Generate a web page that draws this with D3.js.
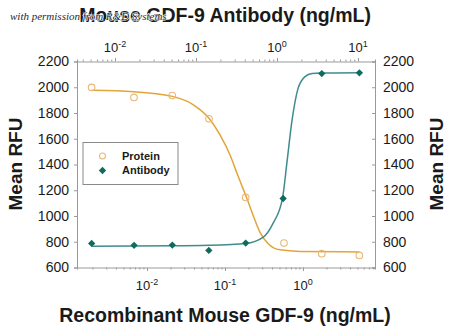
<!DOCTYPE html>
<html>
<head>
<meta charset="utf-8">
<script src="https://cdn.jsdelivr.net/npm/d3@7"></script>
<style>
    html, body { margin: 0; padding: 0; background: #fff; }
    svg { display: block; font-family: "Liberation Sans", Arial, sans-serif; }
</style>
</head>
<body>
<div id="chart"></div>
<script>
'use strict';

// ─── Data ──────────────────────────────────────────────────────

// Recombinant Mouse GDF-9 (ng/mL), bottom axis
const proteinConc = [0.00195, 0.0068, 0.0211, 0.0624, 0.184, 0.57, 1.74, 5.27];
const proteinRFU  = [1999, 1921, 1935, 1755, 1144, 790, 707, 694];

// Mouse GDF-9 Antibody (ng/mL), top axis
const antibodyConc = [0.00515, 0.0172, 0.051, 0.144, 0.411, 1.19, 3.57, 10.4];
const antibodyRFU  = [787, 772, 774, 733, 790, 1136, 2106, 2112];

// fitted curves
const proteinFitConc = [0.00195, 0.0068, 0.0211, 0.0393, 0.0624, 0.0863, 0.116, 0.147, 0.19, 0.229, 0.281, 0.356, 0.507, 0.916, 5.27];
const proteinFitRFU  = [1976, 1966, 1929, 1864, 1759, 1630, 1474, 1310, 1139, 1006, 873, 787, 737, 725, 721];

const antibodyFitConc = [0.00515, 0.051, 0.144, 0.411, 0.671, 0.893, 1.17, 1.329, 1.531, 1.816, 2.217, 2.705, 3.49, 10.4];
const antibodyFitRFU  = [766, 768, 772, 787, 834, 943, 1139, 1420, 1740, 1989, 2083, 2106, 2110, 2112];

const rfuTicks = [600, 800, 1000, 1200, 1400, 1600, 1800, 2000, 2200];
const bottomMajor = [0.01, 0.1, 1];
const topMajor = [0.01, 0.1, 1, 10];

// ─── Layout ────────────────────────────────────────────────────

const W = 450, H = 329;
const plot = { left: 77, right: 375, top: 61.5, bottom: 267.5 };

const PROTEIN_LINE = '#e2a53a';
const PROTEIN_DOT = '#e9b877';
const ANTIBODY_LINE = '#3f8c8e';
const ANTIBODY_DOT = '#0f6b5d';
const AXIS = '#9a9a9a';
const TEXT = '#1a1a1a';

const svg = d3.select('#chart').append('svg')
    .attr('width', W).attr('height', H);

// log scales; each axis spans slightly different decades in the original
const xBottom = d3.scaleLog()
    .domain([Math.pow(10, -2 - 70 / 78), Math.pow(10, 72 / 78)])
    .range([plot.left, plot.right]);

const xTop = d3.scaleLog()
    .domain([Math.pow(10, -2 - 38 / 81), Math.pow(10, 1 + 17 / 81)])
    .range([plot.left, plot.right]);

const y = d3.scaleLinear()
    .domain([600, 2200])
    .range([plot.bottom, plot.top]);

// ─── Axes ──────────────────────────────────────────────────────

function minorTicks(scale) {
    // 1..9 × each decade inside the domain
    const [a, b] = scale.domain();
    const out = [];
    for (let e = Math.floor(Math.log10(a)); e <= Math.ceil(Math.log10(b)); e++) {
        for (let m = 1; m < 10; m++) {
            const v = m * Math.pow(10, e);
            if (v >= a && v <= b) out.push(v);
        }
    }
    return out;
}

function powLabel(sel, v) {
    const e = Math.round(Math.log10(v));
    sel.text(null);
    sel.append('tspan').text('10');
    sel.append('tspan').attr('dy', -5).attr('font-size', '9px').text(String(e));
}

// bottom
const gBottom = svg.append('g')
    .attr('transform', `translate(0,${plot.bottom})`)
    .call(d3.axisBottom(xBottom).tickValues(minorTicks(xBottom)).tickSize(2).tickFormat(''));
gBottom.selectAll('.tick line')
    .attr('y2', d => bottomMajor.some(m => Math.abs(m - d) < 1e-9) ? 3.5 : 2);
gBottom.append('g').selectAll('text')
    .data(bottomMajor).enter().append('text')
    .attr('x', d => xBottom(d)).attr('y', 22)
    .attr('text-anchor', 'middle').attr('font-size', '13px').attr('fill', TEXT)
    .each(function (d) { powLabel(d3.select(this), d); });

// top
const gTop = svg.append('g')
    .attr('transform', `translate(0,${plot.top})`)
    .call(d3.axisTop(xTop).tickValues(minorTicks(xTop)).tickSize(2).tickFormat(''));
gTop.selectAll('.tick line')
    .attr('y2', d => topMajor.some(m => Math.abs(m - d) < 1e-9) ? -3.5 : -2);
gTop.append('g').selectAll('text')
    .data(topMajor).enter().append('text')
    .attr('x', d => xTop(d)).attr('y', -10)
    .attr('text-anchor', 'middle').attr('font-size', '13px').attr('fill', TEXT)
    .each(function (d) { powLabel(d3.select(this), d); });

// left
svg.append('g')
    .attr('transform', `translate(${plot.left},0)`)
    .call(d3.axisLeft(y).tickValues(rfuTicks).tickFormat(d3.format('d')).tickSize(3).tickPadding(5))
    .selectAll('text').attr('font-size', '14px').attr('fill', TEXT);

// right (ticks point inward)
svg.append('g')
    .attr('transform', `translate(${plot.right},0)`)
    .call(d3.axisRight(y).tickValues(rfuTicks).tickFormat(d3.format('d')).tickSize(-3).tickPadding(8))
    .selectAll('text').attr('font-size', '14px').attr('fill', TEXT);

svg.selectAll('.domain').attr('stroke', AXIS);
svg.selectAll('.tick line').attr('stroke', AXIS);
svg.selectAll('g').attr('font-family', null);

// ─── Curves ────────────────────────────────────────────────────

const proteinLine = d3.line()
    .x(d => xBottom(d[0])).y(d => y(d[1]))
    .curve(d3.curveMonotoneX);
const antibodyLine = d3.line()
    .x(d => xTop(d[0])).y(d => y(d[1]))
    .curve(d3.curveMonotoneX);

svg.append('path')
    .datum(d3.zip(proteinFitConc, proteinFitRFU))
    .attr('d', proteinLine)
    .attr('fill', 'none').attr('stroke', PROTEIN_LINE).attr('stroke-width', 1.5);

svg.append('path')
    .datum(d3.zip(antibodyFitConc, antibodyFitRFU))
    .attr('d', antibodyLine)
    .attr('fill', 'none').attr('stroke', ANTIBODY_LINE).attr('stroke-width', 1.5);

// ─── Points ────────────────────────────────────────────────────

svg.append('g').selectAll('circle')
    .data(d3.zip(proteinConc, proteinRFU)).enter().append('circle')
    .attr('cx', d => xBottom(d[0])).attr('cy', d => y(d[1]))
    .attr('r', 3.3)
    .attr('fill', 'none').attr('stroke', PROTEIN_DOT).attr('stroke-width', 1.1);

const diamond = d3.symbol().type(d3.symbolDiamond2).size(34);
svg.append('g').selectAll('path')
    .data(d3.zip(antibodyConc, antibodyRFU)).enter().append('path')
    .attr('d', diamond)
    .attr('transform', d => `translate(${xTop(d[0])},${y(d[1])})`)
    .attr('fill', ANTIBODY_DOT);

// ─── Legend ────────────────────────────────────────────────────

const legend = svg.append('g').attr('transform', 'translate(83,142.5)');
legend.append('rect')
    .attr('width', 95).attr('height', 42)
    .attr('fill', '#fff').attr('stroke', '#8a8a8a').attr('stroke-width', 1);
legend.append('circle')
    .attr('cx', 19.5).attr('cy', 13.5).attr('r', 3)
    .attr('fill', 'none').attr('stroke', PROTEIN_DOT).attr('stroke-width', 1.1);
legend.append('path')
    .attr('d', diamond).attr('transform', 'translate(19.5,28)')
    .attr('fill', ANTIBODY_DOT);
legend.append('text').attr('x', 39).attr('y', 17)
    .attr('font-size', '11px').attr('font-weight', 'bold').attr('fill', TEXT)
    .text('Protein');
legend.append('text').attr('x', 39).attr('y', 31.5)
    .attr('font-size', '11px').attr('font-weight', 'bold').attr('fill', TEXT)
    .text('Antibody');

// ─── Titles ────────────────────────────────────────────────────

svg.append('text')
    .attr('x', 225).attr('y', 22)
    .attr('text-anchor', 'middle').attr('font-size', '19.5px').attr('font-weight', 'bold').attr('fill', TEXT)
    .text('Mouse GDF-9 Antibody (ng/mL)');

svg.append('text')
    .attr('x', 225).attr('y', 322)
    .attr('text-anchor', 'middle').attr('font-size', '19.5px').attr('font-weight', 'bold').attr('fill', TEXT)
    .text('Recombinant Mouse GDF-9 (ng/mL)');

svg.append('text')
    .attr('transform', 'translate(22,164) rotate(-90)')
    .attr('text-anchor', 'middle').attr('font-size', '19px').attr('font-weight', 'bold').attr('fill', TEXT)
    .text('Mean RFU');

svg.append('text')
    .attr('transform', 'translate(443,164) rotate(-90)')
    .attr('text-anchor', 'middle').attr('font-size', '19px').attr('font-weight', 'bold').attr('fill', TEXT)
    .text('Mean RFU');

// watermark over the title
svg.append('text')
    .attr('x', 10).attr('y', 20)
    .attr('font-family', '"Liberation Serif", "DejaVu Serif", serif')
    .attr('font-style', 'italic').attr('font-size', '11px').attr('fill', '#2a2a2a')
    .attr('stroke', '#fff').attr('stroke-width', 1.2).attr('paint-order', 'stroke')
    .text('with permission from R&D Systems');
</script>
</body>
</html>
